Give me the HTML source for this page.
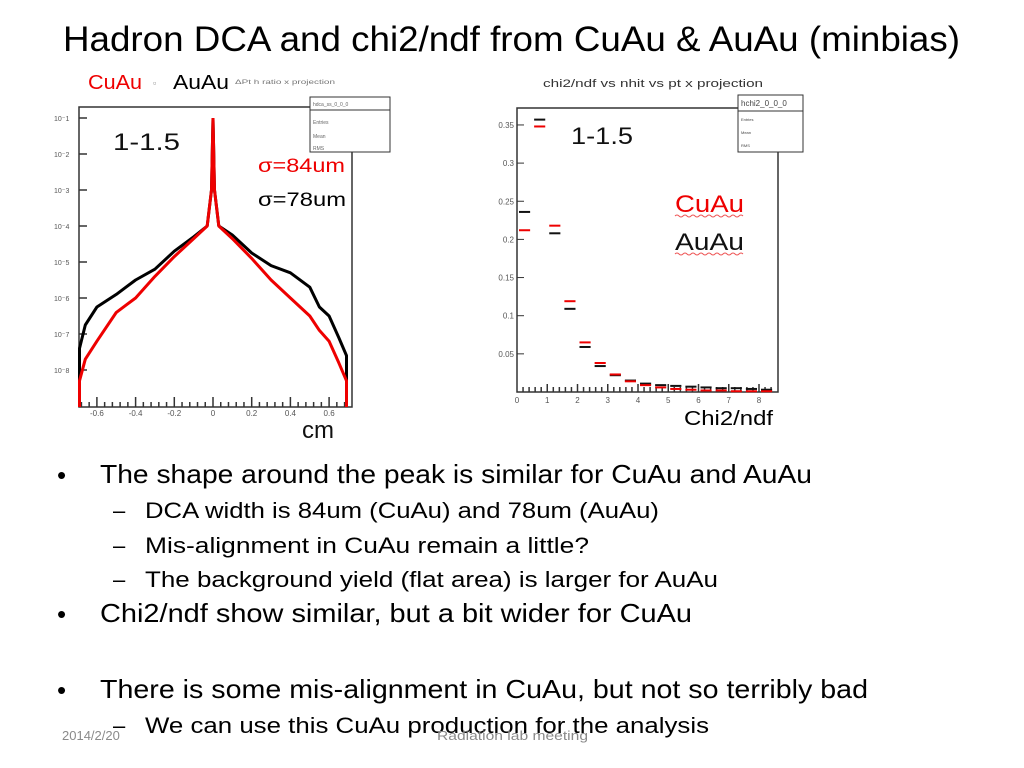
<!DOCTYPE html>
<html><head><meta charset="utf-8"><style>
html,body{margin:0;padding:0;background:#fff;}
svg{display:block;font-family:"Liberation Sans",sans-serif;}
</style></head><body>
<svg id="s" width="1024" height="768" viewBox="0 0 1024 768">
<text x="63" y="51" font-size="35" textLength="897" lengthAdjust="spacingAndGlyphs">Hadron DCA  and chi2/ndf from CuAu &amp; AuAu (minbias)</text>
<text x="88" y="89" font-size="20" fill="#e00" textLength="54" lengthAdjust="spacingAndGlyphs">CuAu</text>
<text x="153" y="86" font-size="9" fill="#888">▫</text>
<text x="173" y="89" font-size="20" textLength="56" lengthAdjust="spacingAndGlyphs">AuAu</text>
<text x="235" y="84" font-size="6" fill="#777" textLength="100" lengthAdjust="spacingAndGlyphs">ΔPt h ratio x projection</text>

<g id="left"></g>
<g id="right"></g>

<text x="113" y="150" font-size="24" fill="#111" textLength="67" lengthAdjust="spacingAndGlyphs">1-1.5</text>
<text x="258" y="172" font-size="19" fill="#e00" textLength="87" lengthAdjust="spacingAndGlyphs">σ=84um</text>
<text x="258" y="206" font-size="19" textLength="88" lengthAdjust="spacingAndGlyphs">σ=78um</text>
<text x="302" y="438" font-size="24" fill="#111">cm</text>

<text x="543" y="87" font-size="11" fill="#333" textLength="220" lengthAdjust="spacingAndGlyphs">chi2/ndf vs nhit vs pt x projection</text>
<text x="571" y="144" font-size="24" fill="#111" textLength="62" lengthAdjust="spacingAndGlyphs">1-1.5</text>
<text x="675" y="212" font-size="24" fill="#e00" textLength="69" lengthAdjust="spacingAndGlyphs">CuAu</text>
<text x="675" y="250" font-size="24" fill="#111" textLength="69" lengthAdjust="spacingAndGlyphs">AuAu</text>
<path d="M675 216 q2 -2 4 0 t4 0 t4 0 t4 0 t4 0 t4 0 t4 0 t4 0 t4 0 t4 0 t4 0 t4 0 t4 0 t4 0 t4 0 t4 0 t4 0 M675 254 q2 -2 4 0 t4 0 t4 0 t4 0 t4 0 t4 0 t4 0 t4 0 t4 0 t4 0 t4 0 t4 0 t4 0 t4 0 t4 0 t4 0 t4 0" fill="none" stroke="#e55" stroke-width="1"/>
<text x="684" y="425" font-size="20" textLength="89" lengthAdjust="spacingAndGlyphs">Chi2/ndf</text>

<g font-size="26">
<text x="57" y="484" font-size="26">•</text>
<text x="100" y="483" textLength="712" lengthAdjust="spacingAndGlyphs">The shape around the peak is similar for CuAu and AuAu</text>
<text x="113" y="518" font-size="22">–</text>
<text x="145" y="518" font-size="22" textLength="514" lengthAdjust="spacingAndGlyphs">DCA width is 84um (CuAu) and 78um (AuAu)</text>
<text x="113" y="553" font-size="22">–</text>
<text x="145" y="553" font-size="22" textLength="444" lengthAdjust="spacingAndGlyphs">Mis-alignment in CuAu remain a little?</text>
<text x="113" y="587" font-size="22">–</text>
<text x="145" y="587" font-size="22" textLength="573" lengthAdjust="spacingAndGlyphs">The background yield (flat area) is larger for AuAu</text>
<text x="57" y="623" font-size="26">•</text>
<text x="100" y="622" textLength="592" lengthAdjust="spacingAndGlyphs">Chi2/ndf show similar, but a bit wider for CuAu</text>
<text x="57" y="699" font-size="26">•</text>
<text x="100" y="698" textLength="768" lengthAdjust="spacingAndGlyphs">There is some mis-alignment in CuAu, but not so terribly bad</text>
<text x="113" y="733" font-size="22">–</text>
<text x="145" y="733" font-size="22" textLength="564" lengthAdjust="spacingAndGlyphs">We can use this CuAu production for the analysis</text>
</g>
<text x="62" y="740" font-size="13" fill="#8a8a8a">2014/2/20</text>
<text x="437" y="740" font-size="13" fill="#8a8a8a" textLength="151" lengthAdjust="spacingAndGlyphs">Radiation lab meeting</text>
</svg>
<script>
// DCA chart data (log10 yield)
const dcaX = [-0.69,-0.66,-0.6,-0.5,-0.4,-0.3,-0.2,-0.1,-0.03,-0.008,0,0.008,0.03,0.1,0.2,0.3,0.4,0.5,0.55,0.6,0.65,0.69];
const dcaAuAu = [-7.4,-6.75,-6.25,-5.9,-5.5,-5.2,-4.7,-4.3,-4.0,-3.0,-1,-3.0,-4.0,-4.25,-4.75,-5.1,-5.3,-5.7,-6.25,-6.5,-7.1,-7.6];
const dcaCuAu = [-8.3,-7.7,-7.2,-6.4,-6.0,-5.4,-4.85,-4.35,-4.0,-3.0,-1,-3.0,-4.0,-4.35,-4.9,-5.5,-6.0,-6.5,-6.9,-7.2,-7.8,-8.3];
const dcaXTicks = [-0.6,-0.4,-0.2,0,0.2,0.4,0.6];
const dcaYTicks = [-1,-2,-3,-4,-5,-6,-7,-8];
// chi2 chart data (bins width 0.5)
const chiBins = [0,0.5,1,1.5,2,2.5,3,3.5,4,4.5,5,5.5,6,6.5,7,7.5,8];
const chiAuAu = [0.236,0.357,0.208,0.109,0.059,0.034,0.022,0.015,0.011,0.009,0.008,0.007,0.006,0.005,0.005,0.004,0.003];
const chiCuAu = [0.212,0.348,0.218,0.119,0.065,0.038,0.023,0.014,0.009,0.006,0.004,0.003,0.002,0.002,0.001,0.001,0.001];
const chiXTicks = [0,1,2,3,4,5,6,7,8];
const chiYTicks = [0.05,0.1,0.15,0.2,0.25,0.3,0.35];

const NS='http://www.w3.org/2000/svg';
function mk(p,t,a){const e=document.createElementNS(NS,t);for(const k in a)e.setAttribute(k,a[k]);p.appendChild(e);return e;}

// left
const L=document.getElementById('left');
const lx=v=>213+v*193.5, ly=v=>118+(-1-v)*36;
let e=mk(L,'rect',{x:79,y:107,width:273,height:300,fill:'none',stroke:'#333','stroke-width':1.5});


dcaYTicks.forEach(v=>{
  const t=mk(L,'text',{x:54,y:ly(v)+3,'font-size':7,fill:'#555'});t.textContent='10'+'⁻'+Math.abs(v);
  
  
  const l=mk(L,'line',{x1:79,x2:87,y1:ly(v),y2:ly(v),stroke:'#333','stroke-width':1.5});
  
  
});
for(let v=-0.68;v<=0.7;v+=0.04){const l=mk(L,'line',{x1:lx(v),x2:lx(v),y1:407,y2:Math.abs(Math.round(v*100)%10)<1?397:402,stroke:'#333','stroke-width':1.5});
  
  }
dcaXTicks.forEach(v=>{const t=mk(L,'text',{x:lx(v),y:416,'font-size':8,fill:'#555','text-anchor':'middle'});t.textContent=String(v);
  
  });
function curve(ys,col,w,name){
  const pts=dcaX.map((x,i)=>lx(x).toFixed(1)+','+Math.min(407,ly(ys[i])).toFixed(1));
  const first='M'+lx(dcaX[0]).toFixed(1)+',407 L';
  const last=' L'+lx(dcaX[dcaX.length-1]).toFixed(1)+',407';
  const p=mk(L,'path',{d:first+pts.join(' L')+last,fill:'none',stroke:col,'stroke-width':w,'stroke-linejoin':'bevel'});
  
  
}
curve(dcaAuAu,'#000',3,'auau-dca-curve');
curve(dcaCuAu,'#e00',3,'cuau-dca-curve');
e=mk(L,'rect',{x:310,y:97,width:80,height:55,fill:'#fff',stroke:'#333','stroke-width':1});


[[106,'hdca_ss_0_0_0'],[124,'Entries'],[138,'Mean'],[150,'RMS']].forEach(a=>{const t=mk(L,'text',{x:313,y:a[0],'font-size':5,fill:'#666'});t.textContent=a[1];
  
  });
mk(L,'line',{x1:310,x2:390,y1:110,y2:110,stroke:'#333'});

// right
const R=document.getElementById('right');
const rx=v=>517+v*30.25, ry=v=>392-v*763;
e=mk(R,'rect',{x:517,y:108,width:261,height:284,fill:'none',stroke:'#333','stroke-width':1.5});


chiYTicks.forEach(v=>{const t=mk(R,'text',{x:514,y:ry(v)+3,'font-size':8,fill:'#555','text-anchor':'end'});t.textContent=String(v);
  
  
  const l=mk(R,'line',{x1:517,x2:524,y1:ry(v),y2:ry(v),stroke:'#333'});
  
  });
for(let v=0.2;v<8.6;v+=0.2){const l=mk(R,'line',{x1:rx(v),x2:rx(v),y1:392,y2:Math.abs(v-Math.round(v))<0.05?384:387,stroke:'#333','stroke-width':1.5});
  
  }
chiXTicks.forEach(v=>{const t=mk(R,'text',{x:rx(v),y:403,'font-size':8,fill:'#555','text-anchor':'middle'});t.textContent=String(v);
  
  });
function bins(vals,col,name,off){
  vals.forEach((v,i)=>{const x0=rx(chiBins[i]),x1=rx(Math.min(chiBins[i]+0.5,8.6));
    const l=mk(R,'line',{x1:x0+2,x2:x1-2,y1:ry(v)+off,y2:ry(v)+off,stroke:col,'stroke-width':2});
    
    });
}
bins(chiAuAu,'#111','auau-chi2-bin',0);
bins(chiCuAu,'#e00','cuau-chi2-bin',0);
e=mk(R,'rect',{x:738,y:95,width:65,height:57,fill:'#fff',stroke:'#333','stroke-width':1});


[[106,'hchi2_0_0_0'],[121,'Entries'],[134,'Mean'],[147,'RMS']].forEach(a=>{const t=mk(R,'text',{x:741,y:a[0],'font-size':a[1][0]=='h'?8:4,fill:'#444'});t.textContent=a[1];
  
  });
mk(R,'line',{x1:738,x2:803,y1:111,y2:111,stroke:'#333'});
</script>
</body></html>
